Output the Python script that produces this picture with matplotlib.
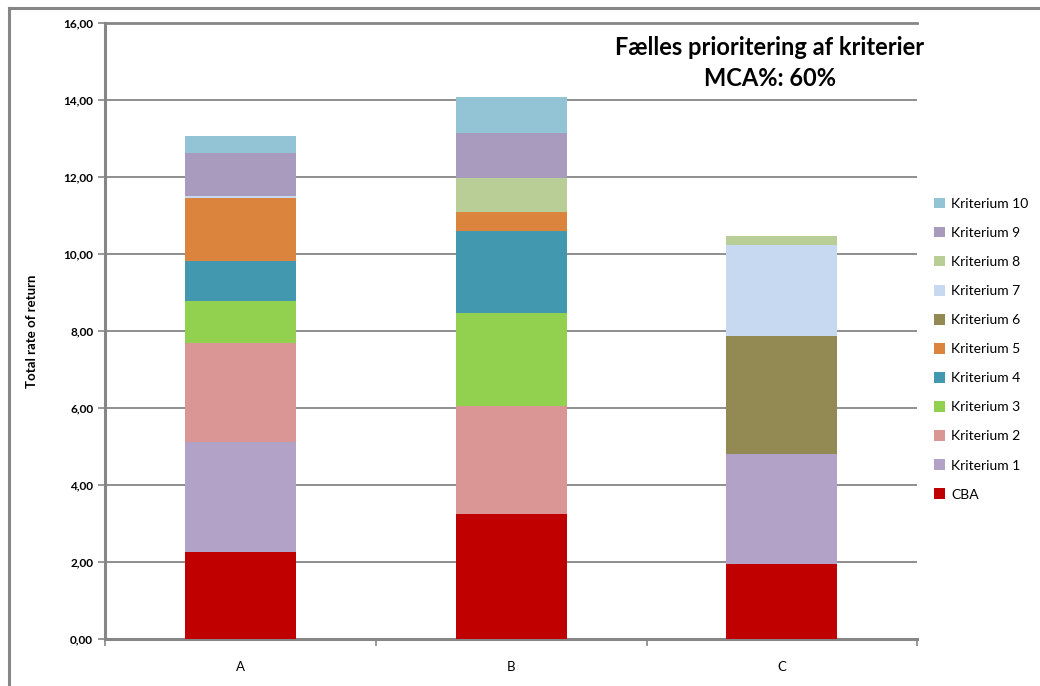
import numpy as np
import matplotlib
matplotlib.use('Agg')
import matplotlib.pyplot as plt
from matplotlib.lines import Line2D
from matplotlib.ticker import FuncFormatter, FixedLocator

plt.rcParams['font.family'] = ['Lato', 'DejaVu Sans']

# data
categories = ['A', 'B', 'C']
series = ['CBA', 'Kriterium 1', 'Kriterium 2', 'Kriterium 3', 'Kriterium 4',
          'Kriterium 5', 'Kriterium 6', 'Kriterium 7', 'Kriterium 8',
          'Kriterium 9', 'Kriterium 10']
cba = [2.26, 3.25, 1.93]
krit1 = [2.86, 0.00, 2.86]
krit2 = [2.58, 2.79, 0.00]
krit3 = [1.09, 2.43, 0.00]
krit4 = [1.02, 2.14, 0.00]
krit5 = [1.66, 0.48, 0.00]
krit6 = [0.00, 0.00, 3.07]
krit7 = [0.05, 0.00, 2.38]
krit8 = [0.00, 0.89, 0.24]
krit9 = [1.11, 1.18, 0.00]
krit10 = [0.45, 0.92, 0.00]
values = [cba, krit1, krit2, krit3, krit4, krit5, krit6, krit7, krit8, krit9, krit10]

colors = ['#C00000', '#B3A2C7', '#D99694', '#92D050', '#4198AF', '#DB843D',
          '#938953', '#C6D9F1', '#B9CD96', '#A99BBD', '#93C4D5']

fig = plt.figure(figsize=(10.4, 6.86), dpi=100)
ax = fig.add_axes([0.101, 0.069, 0.781, 0.897])

x = np.arange(len(categories))
bottom = np.zeros(len(categories))
for name, vals, c in zip(series, values, colors):
    ax.bar(x, vals, 0.41, bottom=bottom, color=c, label=name, zorder=3)
    bottom += np.array(vals)

ax.set_xlim(-0.5, 2.5)
ax.set_ylim(0, 16)
ax.set_yticks(np.arange(0, 17, 2))
ax.yaxis.set_major_formatter(FuncFormatter(lambda v, p: ('%.2f' % v).replace('.', ',')))
ax.set_xticks(x)
ax.set_xticklabels(categories, fontsize=9.5)
ax.xaxis.set_minor_locator(FixedLocator([-0.5, 0.5, 1.5, 2.5]))
ax.tick_params(axis='x', which='major', length=0, pad=16)
ax.tick_params(axis='x', which='minor', length=5, width=1.2, color='#868686')
ax.tick_params(axis='y', length=5, width=1.2, color='#868686', labelsize=8.5)
for lab in ax.get_yticklabels():
    lab.set_fontweight('bold')

ax.grid(axis='y', color='#868686', linewidth=1.3, zorder=0)
for s in ['left', 'bottom']:
    ax.spines[s].set_color('#868686')
    ax.spines[s].set_linewidth(2.2)
ax.spines['top'].set_color('#868686')
ax.spines['top'].set_linewidth(2.0)
ax.spines['right'].set_visible(False)

ax.set_ylabel('Total rate of return', fontsize=9.5, fontweight='bold')
ax.yaxis.set_label_coords(-0.082, 0.5)

fig.text(0.740, 0.931, 'Fælles prioritering af kriterier', ha='center', va='center',
         fontsize=17, fontweight='bold')
fig.text(0.740, 0.886, 'MCA%: 60%', ha='center', va='center',
         fontsize=17, fontweight='bold')

handles, labels = ax.get_legend_handles_labels()
ax.legend(handles[::-1], labels[::-1], loc='upper left', bbox_to_anchor=(0.893, 0.720),
          bbox_transform=fig.transFigure, frameon=False, fontsize=10,
          handlelength=0.8, handleheight=0.8, handletextpad=0.4, labelspacing=1.22,
          borderaxespad=0)

# outer chart frame
fig.add_artist(Line2D([0.009, 0.009], [0.0, 0.988], color='#868686', linewidth=2.2))
fig.add_artist(Line2D([0.009, 1.0], [0.988, 0.988], color='#868686', linewidth=2.2))

plt.savefig('out.png', dpi=100)
